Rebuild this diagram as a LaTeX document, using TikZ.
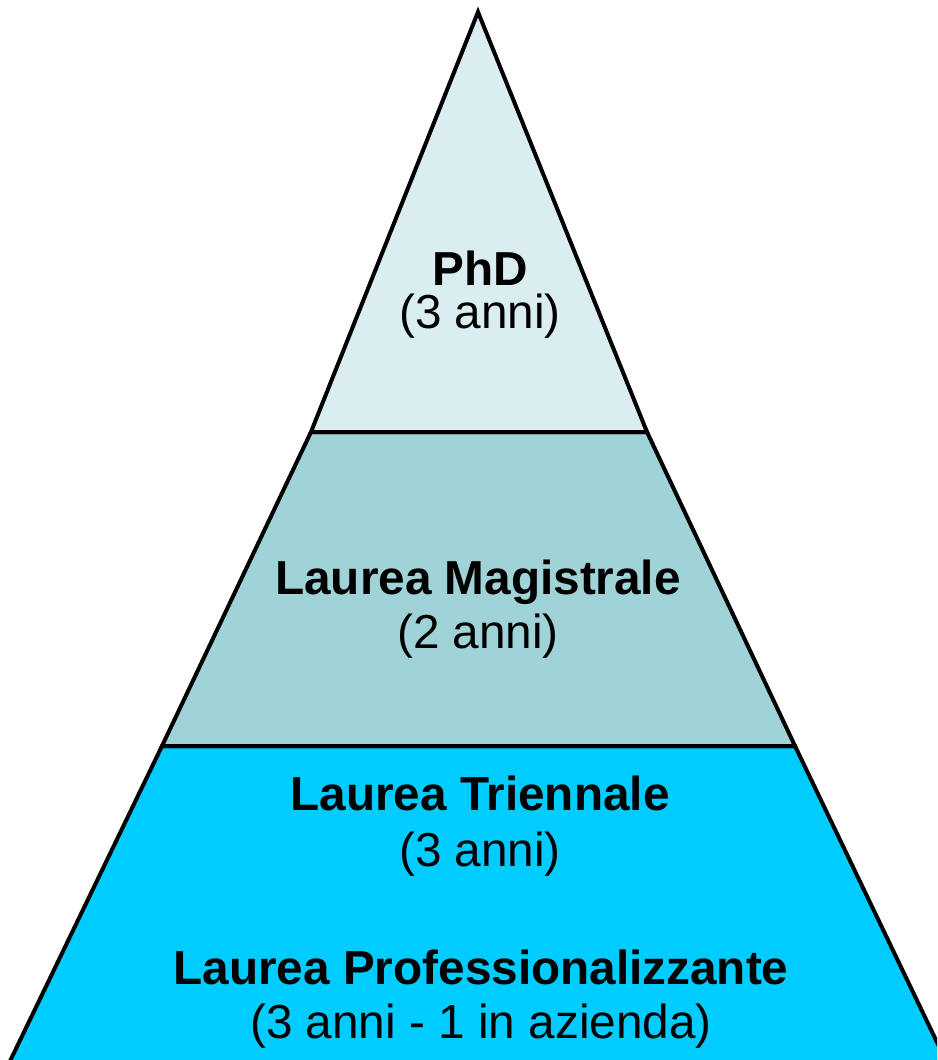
\documentclass[tikz,border=0pt]{standalone}
\usepackage{fontspec}
\setmainfont{Liberation Sans}
\definecolor{topc}{HTML}{DAEDF0}
\definecolor{midc}{HTML}{A0D3D7}
\definecolor{botc}{HTML}{00CCFF}
\tikzset{
  tier/.style={draw=black, line width=4pt, line join=miter},
  title/.style={anchor=base, inner sep=0pt, font=\fontsize{47.7}{56}\selectfont\bfseries},
  sub/.style={anchor=base, inner sep=0pt, font=\fontsize{47.7}{56}\selectfont}
}
\begin{document}
\begin{tikzpicture}[x=1pt,y=-1pt]
\useasboundingbox (0,0) rectangle (937,1060);
\clip (0,0) rectangle (937,1060);
\coordinate (apex) at (478,12);
\coordinate (l1) at (311,432);
\coordinate (r1) at (647,432);
\coordinate (l2) at (162,746);
\coordinate (r2) at (795,746);
\coordinate (l3) at (-2,1086);
\coordinate (r3) at (958,1086);
\path[tier, fill=botc] (l2) -- (r2) -- (r3) -- (l3) -- cycle;
\path[tier, fill=midc] (l1) -- (r1) -- (r2) -- (l2) -- cycle;
\path[tier, fill=topc] (apex) -- (r1) -- (l1) -- cycle;
\node[title] (phd) at (480,285) {PhD};
\node[sub] (phdy) at (480,328) {(3 anni)};
\node[title] (mag) at (478,594) {Laurea Magistrale};
\node[sub] (magy) at (478,648) {(2 anni)};
\node[title] (tri) at (480,810) {Laurea Triennale};
\node[sub] (triy) at (480,866) {(3 anni)};
\node[title] (pro) at (481,984) {Laurea Professionalizzante};
\node[sub] (proy) at (481,1038) {(3 anni - 1 in azienda)};
\end{tikzpicture}
\end{document}
